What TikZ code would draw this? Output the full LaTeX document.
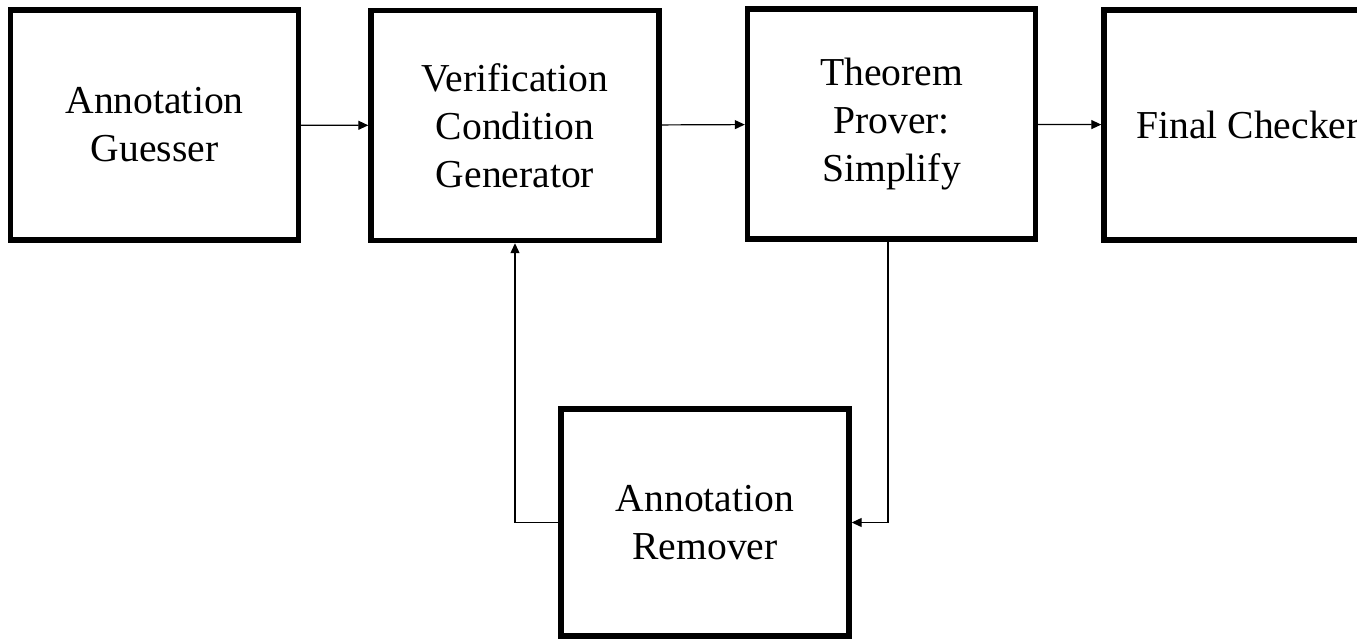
\documentclass[tikz,border=0pt]{standalone}
\usepackage{fontspec}
\setmainfont{Liberation Serif}
\usepackage{tikz}
\usetikzlibrary{arrows.meta}

\begin{document}
\begin{tikzpicture}[x=0.5pt,y=-0.5pt,
    block/.style={draw, line width=2.7pt, minimum width=144pt, minimum height=115pt,
        inner sep=0pt, align=center, font=\fontsize{19.8}{24}\selectfont},
    arr/.style={line width=0.6pt, -{Triangle[length=5pt,width=4.5pt]}}]
\useasboundingbox (0,0) rectangle (1357,639);
\clip (0,0) rectangle (1357,639);

\node[block] (guesser) at (154.5,125) {Annotation\\Guesser};
\node[block] (vcgen)   at (515,125.5) {Verification\\Condition\\Generator};
\node[block] (prover)  at (891.5,124) {Theorem\\Prover:\\Simplify};
\node[block] (checker) at (1248,125) {Final Checker};
\node[block, minimum height=113.5pt] (remover) at (705,522.5) {Annotation\\Remover};

\coordinate (down) at (888,238);

\draw[arr] (guesser) -- (vcgen);
\draw[arr] (vcgen) -- (prover);
\draw[arr] (prover) -- (checker);
\draw[arr] (down) |- (remover.east);
\draw[arr] (remover.west) -| (vcgen.south);
\end{tikzpicture}
\end{document}
